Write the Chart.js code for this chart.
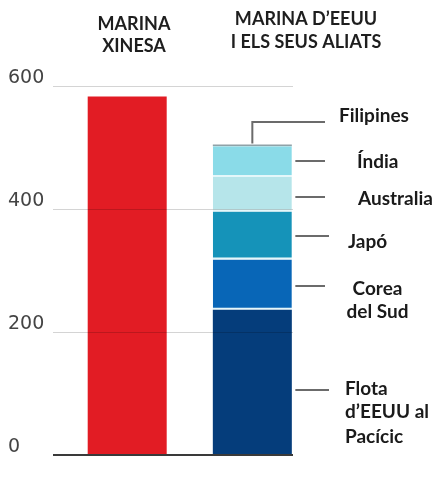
<!DOCTYPE html>
<html>
<head>
<meta charset="utf-8">
<script src="https://cdn.jsdelivr.net/npm/chart.js@4"></script>
<style>
  html, body { margin: 0; padding: 0; background: #ffffff; }
  #wrap { width: 433px; height: 481px; position: relative; }
</style>
</head>
<body>
<div id="wrap"><canvas id="c" width="433" height="481"></canvas></div>
<script>
// ---- data ----
const categories = [['MARINA', 'XINESA'], ['MARINA D\u2019EEUU', 'I ELS SEUS ALIATS']];
const chinaValues = [583];
const segmentLabels = [
  ['Flota', 'd\u2019EEUU al', 'Pac\u00edcic'],
  ['Corea', 'del Sud'],
  ['Jap\u00f3'],
  ['Australia'],
  ['\u00cdndia'],
  ['Filipines']
];
const segmentValues = [236, 82, 78, 56, 50, 3];
const yTicks = [0, 200, 400, 600];

// ---- styles ----
const chinaColor = '#e21c24';
const segmentColors = ['#053d7b', '#0866b7', '#1593b9', '#b6e5ea', '#8adbe8', '#8fa2a8'];
const sepColor = 'rgba(225,246,250,0.9)';

const datasets = [{
  label: 'MARINA XINESA',
  data: chinaValues.map(v => ({ x: 1, y: v })),
  backgroundColor: chinaColor,
  borderWidth: 0,
  barThickness: 79,
  inflateAmount: 0
}];
segmentLabels.forEach((lab, i) => {
  datasets.push({
    label: lab.join(' '),
    data: [{ x: 2, y: segmentValues[i] }],
    backgroundColor: segmentColors[i],
    borderColor: sepColor,
    borderWidth: (i >= 1 && i <= 4) ? { top: 0, bottom: 2, left: 0, right: 0 } : 0,
    borderSkipped: false,
    barThickness: 79,
    inflateAmount: 0
  });
});

// annotation layout (pixels)
const labelLayout = [
  { lineY: 390, lines: [[345, 395, 'left'], [345, 418, 'left'], [345, 443, 'left']] },
  { lineY: 286, lines: [[377.5, 295, 'center'], [377.5, 318, 'center']] },
  { lineY: 236, lines: [[348, 248, 'left']] },
  { lineY: 197, lines: [[358, 205, 'left']] },
  { lineY: 161, lines: [[357, 168, 'left']] },
  { lineY: 122, lines: [[339, 122, 'left']] }
];
const topLayout = [
  { cx: 134, ys: [30, 51.5] },
  { cx: 306, ys: [25, 48] }
];

const annotations = {
  id: 'annotations',
  afterDraw(chart) {
    const ctx = chart.ctx;
    const x = chart.scales.x, y = chart.scales.y;
    ctx.save();
    // top category titles
    ctx.fillStyle = '#1e1e1e';
    ctx.font = 'bold 18px Lato';
    ctx.textBaseline = 'alphabetic';
    ctx.textAlign = 'center';
    categories.forEach((lines, i) => {
      lines.forEach((t, j) => ctx.fillText(t, topLayout[i].cx, topLayout[i].ys[j]));
    });
    // leaders + labels
    const barCx = x.getPixelForValue(2);
    const barRight = barCx + 40;
    const total = segmentValues.reduce((a, b) => a + b, 0);
    ctx.strokeStyle = '#6b6b6b';
    ctx.lineWidth = 2;
    labelLayout.forEach((L, i) => {
      ctx.beginPath();
      if (i === 5) {
        const topY = y.getPixelForValue(total);
        ctx.moveTo(barCx, topY - 1);
        ctx.lineTo(barCx, L.lineY);
        ctx.lineTo(325, L.lineY);
      } else {
        ctx.moveTo(barRight + 3, L.lineY);
        ctx.lineTo(i === 0 || i === 2 ? 329 : 325, L.lineY);
      }
      ctx.stroke();
      ctx.fillStyle = '#1a1a1a';
      ctx.font = 'bold 19px Lato';
      L.lines.forEach((ln, j) => {
        ctx.textAlign = ln[2];
        ctx.fillText(segmentLabels[i][j], ln[0], ln[1]);
      });
    });
    ctx.restore();
  }
};

new Chart(document.getElementById('c'), {
  type: 'bar',
  data: { datasets },
  plugins: [annotations],
  options: {
    responsive: false,
    animation: false,
    events: [],
    layout: { padding: { left: 8, right: 140, top: 86, bottom: 26 } },
    plugins: { legend: { display: false }, tooltip: { enabled: false } },
    scales: {
      x: {
        type: 'linear',
        display: false,
        stacked: true,
        offset: false,
        grid: { offset: false },
        min: 0.407,
        max: 2.325
      },
      y: {
        stacked: true,
        min: 0,
        max: 600,
        afterBuildTicks(scale) { scale.ticks = yTicks.map(v => ({ value: v })); },
        afterFit(scale) { scale.width = 45; },
        border: { display: false },
        grid: {
          z: 1,
          drawTicks: false,
          color: ctx => ctx.tick && ctx.tick.value === 0 ? '#3a3a3a' : 'rgba(0,0,0,0.17)',
          lineWidth: ctx => ctx.tick && ctx.tick.value === 0 ? 2 : 1
        },
        ticks: {
          crossAlign: 'far',
          labelOffset: -8,
          padding: 0,
          color: '#444444',
          font: { family: 'DejaVu Sans', size: 19 }
        }
      }
    }
  }
});
</script>
</body>
</html>
